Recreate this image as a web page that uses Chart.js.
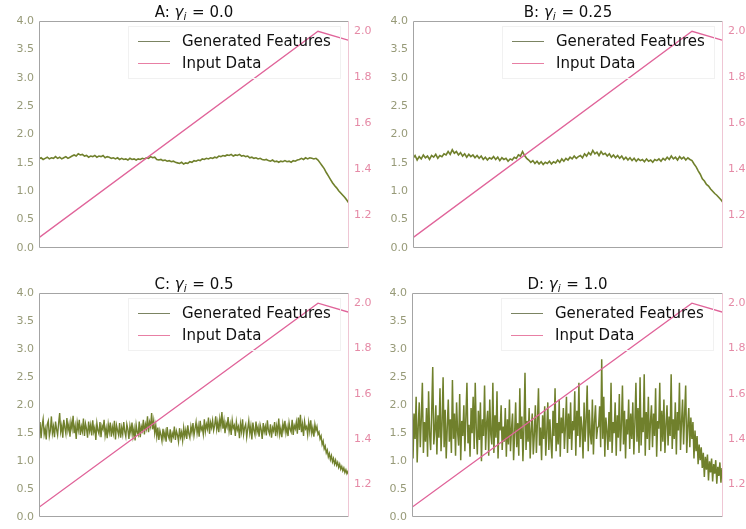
<!DOCTYPE html>
<html><head><meta charset="utf-8">
<script src="https://cdn.jsdelivr.net/npm/chart.js@4"></script>
<style>
html,body{margin:0;padding:0;background:#fff;width:746px;height:529px;overflow:hidden}
canvas{position:absolute}
</style></head><body>
<canvas id="cA" width="373" height="264" style="left:0px;top:0px"></canvas>
<canvas id="cB" width="373" height="264" style="left:373px;top:0px"></canvas>
<canvas id="cC" width="373" height="265" style="left:0px;top:264px"></canvas>
<canvas id="cD" width="373" height="265" style="left:373px;top:264px"></canvas>
<script>
// ---- data ----
const panelLetters = ['A', 'B', 'C', 'D'];
const gammaValues = ['0.0', '0.25', '0.5', '1.0'];
const seriesLabels = ['Generated Features', 'Input Data'];
const leftTicks = [0, 0.5, 1, 1.5, 2, 2.5, 3, 3.5, 4];
const rightTicks = [1.2, 1.4, 1.6, 1.8, 2.0];
const inputX = [0, 0.9, 1.0];
const inputY = [1.10, 2.00, 1.96];

const genA = [
1.57,1.59,1.56,1.58,1.60,1.57,1.59,1.58,1.61,1.58,
1.60,1.57,1.59,1.61,1.58,1.60,1.62,1.64,1.62,1.66,
1.64,1.65,1.62,1.63,1.60,1.62,1.61,1.63,1.60,1.62,
1.61,1.63,1.59,1.61,1.60,1.58,1.59,1.57,1.59,1.56,
1.58,1.56,1.57,1.55,1.58,1.56,1.57,1.55,1.57,1.56,
1.58,1.57,1.59,1.58,1.61,1.59,1.60,1.56,1.55,1.56,
1.54,1.55,1.53,1.54,1.52,1.53,1.51,1.50,1.49,1.51,
1.48,1.50,1.49,1.52,1.51,1.54,1.53,1.55,1.54,1.57,
1.56,1.58,1.57,1.59,1.58,1.60,1.59,1.62,1.61,1.63,
1.62,1.64,1.63,1.65,1.62,1.64,1.63,1.65,1.62,1.63,
1.61,1.62,1.59,1.60,1.58,1.59,1.57,1.58,1.56,1.55,
1.56,1.54,1.53,1.55,1.52,1.53,1.51,1.53,1.52,1.54,
1.52,1.53,1.51,1.54,1.53,1.55,1.56,1.58,1.56,1.59,
1.57,1.59,1.58,1.57,1.58,1.55,1.50,1.45,1.40,1.33,
1.27,1.21,1.15,1.10,1.06,1.01,0.97,0.93,0.89,0.84,0.79];

const genB = [
1.58,1.63,1.55,1.61,1.57,1.64,1.59,1.62,1.56,1.63,
1.60,1.65,1.58,1.63,1.61,1.66,1.64,1.70,1.65,1.73,
1.67,1.70,1.64,1.68,1.62,1.66,1.60,1.65,1.61,1.64,
1.59,1.63,1.58,1.62,1.56,1.60,1.55,1.59,1.57,1.61,
1.56,1.60,1.54,1.59,1.56,1.58,1.53,1.57,1.55,1.60,
1.58,1.64,1.62,1.70,1.63,1.58,1.55,1.51,1.54,1.49,
1.53,1.48,1.52,1.47,1.51,1.49,1.53,1.48,1.52,1.50,
1.55,1.51,1.57,1.53,1.58,1.55,1.60,1.57,1.62,1.58,
1.61,1.63,1.59,1.66,1.62,1.68,1.64,1.72,1.66,1.69,
1.63,1.70,1.65,1.67,1.62,1.66,1.60,1.64,1.59,1.63,
1.58,1.62,1.56,1.60,1.55,1.59,1.54,1.58,1.53,1.57,
1.54,1.56,1.52,1.57,1.53,1.55,1.51,1.56,1.54,1.57,
1.53,1.58,1.55,1.60,1.56,1.62,1.57,1.60,1.55,1.61,
1.57,1.60,1.55,1.59,1.56,1.54,1.48,1.43,1.36,1.30,
1.22,1.18,1.12,1.09,1.04,1.00,0.96,0.93,0.89,0.85,0.80];

const genC = [
1.52,1.70,1.41,1.63,1.75,1.48,1.58,1.39,1.66,1.72,
1.45,1.55,1.80,1.50,1.62,1.43,1.71,1.57,1.47,1.68,
1.86,1.53,1.64,1.42,1.74,1.60,1.49,1.77,1.55,1.66,
1.44,1.70,1.58,1.81,1.50,1.63,1.40,1.69,1.56,1.74,
1.47,1.62,1.53,1.76,1.45,1.67,1.58,1.42,1.71,1.54,
1.65,1.46,1.73,1.52,1.60,1.38,1.68,1.55,1.49,1.70,
1.43,1.63,1.57,1.74,1.46,1.59,1.41,1.66,1.52,1.69,
1.44,1.61,1.50,1.72,1.39,1.64,1.55,1.47,1.68,1.42,
1.60,1.48,1.70,1.53,1.44,1.66,1.57,1.40,1.63,1.51,
1.69,1.45,1.58,1.37,1.65,1.52,1.47,1.71,1.43,1.62,
1.55,1.74,1.48,1.66,1.58,1.80,1.52,1.70,1.62,1.86,
1.57,1.72,1.50,1.64,1.44,1.60,1.38,1.55,1.47,1.36,
1.58,1.42,1.52,1.35,1.61,1.46,1.40,1.57,1.33,1.50,
1.44,1.62,1.38,1.54,1.47,1.35,1.59,1.43,1.52,1.37,
1.60,1.45,1.56,1.40,1.64,1.49,1.42,1.62,1.51,1.68,
1.46,1.58,1.70,1.50,1.63,1.44,1.72,1.56,1.61,1.48,
1.75,1.53,1.66,1.58,1.78,1.49,1.69,1.60,1.73,1.55,
1.64,1.80,1.57,1.70,1.52,1.76,1.62,1.88,1.58,1.72,
1.50,1.68,1.61,1.79,1.54,1.66,1.47,1.73,1.59,1.64,
1.45,1.70,1.56,1.62,1.41,1.67,1.53,1.75,1.48,1.60,
1.66,1.43,1.58,1.72,1.50,1.63,1.39,1.69,1.55,1.47,
1.71,1.52,1.61,1.44,1.65,1.57,1.40,1.68,1.53,1.62,
1.46,1.73,1.55,1.49,1.66,1.42,1.60,1.54,1.70,1.45,
1.63,1.51,1.76,1.48,1.59,1.43,1.67,1.56,1.72,1.50,
1.61,1.45,1.69,1.57,1.52,1.74,1.47,1.64,1.58,1.70,
1.49,1.78,1.56,1.83,1.52,1.66,1.45,1.71,1.58,1.62,
1.47,1.69,1.54,1.73,1.50,1.60,1.44,1.66,1.55,1.62,
1.48,1.52,1.40,1.45,1.30,1.36,1.22,1.27,1.15,1.20,
1.08,1.14,1.03,1.10,0.99,1.05,0.95,1.02,0.93,0.98,
0.89,0.95,0.86,0.91,0.83,0.88,0.80,0.85,0.78,0.82,
0.75];

const genD = [
2.20,1.05,1.85,1.40,2.15,0.98,1.62,2.05,1.25,1.78,
2.40,1.15,1.70,1.35,1.95,1.08,2.25,1.48,1.20,1.88,
2.68,1.30,1.55,2.00,1.12,1.82,1.42,2.30,1.18,1.66,
2.50,1.25,1.92,1.05,1.60,2.10,1.35,1.75,1.15,2.45,
1.40,1.85,1.10,2.05,1.52,1.28,2.20,1.02,1.72,1.45,
2.00,1.18,1.80,2.40,1.32,1.65,1.08,1.95,1.50,2.15,
1.22,2.40,1.58,1.12,1.90,1.38,2.05,1.00,1.75,1.45,
2.35,1.20,1.68,1.90,1.10,2.10,1.48,1.30,2.40,1.15,
1.82,1.42,2.25,1.05,1.70,1.55,2.00,1.20,1.62,1.35,
1.95,1.08,1.75,1.30,2.10,1.18,1.58,1.85,1.02,1.50,
2.05,1.25,1.68,1.10,2.30,1.40,1.80,1.00,1.62,2.58,
1.20,1.72,1.35,1.95,1.05,1.55,1.85,1.12,1.48,2.00,
1.15,1.70,2.30,1.28,1.60,1.02,1.82,1.40,1.98,1.10,
1.52,2.05,1.20,1.75,1.35,1.05,1.90,1.45,2.30,1.18,
1.68,1.30,2.10,1.08,1.78,1.50,1.95,1.22,1.62,2.15,
1.15,1.85,1.40,2.05,1.20,1.72,1.55,2.25,1.10,1.90,
1.45,2.40,1.25,1.80,1.60,1.05,2.05,1.35,1.75,2.35,
1.18,1.92,1.48,1.30,2.10,1.12,1.70,2.00,1.40,1.60,
1.62,1.98,1.25,2.82,1.40,2.15,1.08,1.78,1.55,1.20,
1.88,1.35,2.40,1.15,1.70,1.50,2.05,1.10,1.82,1.42,
2.20,1.18,1.65,2.35,1.30,1.90,1.05,1.75,1.48,2.10,
1.22,1.85,1.40,2.05,1.12,1.68,2.40,1.35,1.95,1.15,
2.50,1.28,1.78,1.52,2.55,1.10,1.88,1.40,2.15,1.20,
1.70,2.00,1.25,1.85,1.45,2.30,1.08,1.72,1.58,2.40,
1.18,1.90,1.35,2.10,1.15,1.65,2.00,1.28,1.80,1.45,
2.55,1.22,1.75,1.40,2.05,1.12,1.88,1.55,2.40,1.20,
1.70,2.10,1.30,1.85,2.35,1.15,1.62,1.95,1.25,1.78,
1.40,1.70,1.05,1.55,1.18,1.45,0.95,1.30,1.02,1.25,
0.88,1.15,0.72,1.08,0.85,1.12,0.66,1.00,0.80,1.05,
0.64,0.95,0.78,1.02,0.60,0.90,0.74,0.98,0.62,0.88,
0.70];

const genSeries = [genA, genB, genC, genD];

// ---- styling / layout ----
const GREEN = '#70802c';
const PINK = '#e0649a';
const FONT = "'DejaVu Sans', sans-serif";
const panels = [
  {id: 'cA', padTop: 21, padBottom: 16, leftW: 39, rightW: 24, lw: 1.6},
  {id: 'cB', padTop: 21, padBottom: 16, leftW: 40, rightW: 23, lw: 1.6},
  {id: 'cC', padTop: 29, padBottom: 9, leftW: 39, rightW: 24, lw: 1.4},
  {id: 'cD', padTop: 29, padBottom: 9, leftW: 39, rightW: 23, lw: 1.5}
];

const decor = {
  id: 'decor',
  afterDatasetsDraw(chart) {
    const {ctx, chartArea: a} = chart;
    const L = Math.round(a.left) + 0.5, R = Math.round(a.right) - 0.5;
    const T = Math.round(a.top) + 0.5, B = Math.round(a.bottom) - 0.5;
    ctx.save();
    ctx.lineWidth = 1;
    ctx.strokeStyle = '#a4a4a4';
    ctx.beginPath();
    ctx.moveTo(R, T); ctx.lineTo(L, T); ctx.lineTo(L, B); ctx.lineTo(R, B);
    ctx.stroke();
    ctx.strokeStyle = '#efc6d4';
    ctx.beginPath(); ctx.moveTo(R, T); ctx.lineTo(R, B); ctx.stroke();
    ctx.restore();
  },
  afterDraw(chart) {
    const {ctx, chartArea: a} = chart;
    const o = chart.options.plugins.decor;
    ctx.save();
    // legend frame (faint)
    ctx.strokeStyle = '#f1f1f1';
    ctx.lineWidth = 1;
    ctx.strokeRect(Math.round(a.left + 89) + 0.5, Math.round(a.top + 5) + 0.5, 212, 52);
    // legend entries
    const rows = [
      {label: seriesLabels[0], color: '#7b8462', y: a.top + 20},
      {label: seriesLabels[1], color: '#e87fa4', y: a.top + 42}
    ];
    ctx.font = '15px ' + FONT;
    ctx.textBaseline = 'middle';
    ctx.textAlign = 'left';
    rows.forEach(r => {
      ctx.strokeStyle = r.color;
      ctx.lineWidth = 1;
      ctx.beginPath();
      ctx.moveTo(a.left + 99, Math.round(r.y) + 0.5);
      ctx.lineTo(a.left + 131, Math.round(r.y) + 0.5);
      ctx.stroke();
      ctx.fillStyle = '#111';
      ctx.fillText(r.label, a.left + 143, r.y + 1);
    });
    // title: "X: γ_i = v"
    const pre = o.letter + ': ';
    const post = ' = ' + o.gamma;
    const fN = '15px ' + FONT, fI = 'italic 15px ' + FONT, fS = 'italic 10.5px ' + FONT;
    ctx.font = fN; const wPre = ctx.measureText(pre).width, wPost = ctx.measureText(post).width;
    ctx.font = fI; const wG = ctx.measureText('γ').width;
    ctx.font = fS; const wS = ctx.measureText('i').width;
    const total = wPre + wG + wS + 1 + wPost;
    let x = (a.left + a.right) / 2 - total / 2;
    const y = a.top - 8;
    ctx.fillStyle = '#111';
    ctx.textBaseline = 'middle';
    ctx.font = fN; ctx.fillText(pre, x, y); x += wPre;
    ctx.font = fI; ctx.fillText('γ', x, y); x += wG;
    ctx.font = fS; ctx.fillText('i', x, y + 4); x += wS + 1;
    ctx.font = fN; ctx.fillText(post, x, y);
    ctx.restore();
  }
};

panels.forEach((p, k) => {
  const gen = genSeries[k];
  new Chart(document.getElementById(p.id), {
    type: 'line',
    data: {
      datasets: [
        {
          label: seriesLabels[1],
          data: inputX.map((x, i) => ({x: x, y: inputY[i]})),
          yAxisID: 'y1',
          borderColor: PINK,
          borderWidth: 1.3,
          pointRadius: 0,
          order: 0
        },
        {
          label: seriesLabels[0],
          data: gen.map((v, i) => ({x: i / (gen.length - 1), y: v})),
          yAxisID: 'y',
          borderColor: GREEN,
          borderWidth: p.lw,
          pointRadius: 0,
          order: 1
        }
      ]
    },
    options: {
      responsive: false,
      animation: false,
      events: [],
      layout: {padding: {top: p.padTop, bottom: p.padBottom, left: 0, right: 0}},
      plugins: {
        legend: {display: false},
        tooltip: {enabled: false},
        decor: {letter: panelLetters[k], gamma: gammaValues[k]}
      },
      scales: {
        x: {type: 'linear', min: 0, max: 1, display: false},
        y: {
          position: 'left', min: 0, max: 4,
          grid: {display: false, drawTicks: false},
          border: {display: false},
          afterBuildTicks: s => { s.ticks = leftTicks.map(v => ({value: v})); },
          afterFit: s => { s.width = p.leftW; },
          ticks: {
            color: '#979a78', padding: 5,
            font: {family: FONT, size: 11},
            callback: v => Number(v).toFixed(1)
          }
        },
        y1: {
          position: 'right', min: 1.055, max: 2.045,
          grid: {display: false, drawTicks: false},
          border: {display: false},
          afterBuildTicks: s => { s.ticks = rightTicks.map(v => ({value: v})); },
          afterFit: s => { s.width = p.rightW; },
          ticks: {
            color: '#e58aa6', padding: 5,
            font: {family: FONT, size: 11},
            callback: v => Number(v).toFixed(1)
          }
        }
      }
    },
    plugins: [decor]
  });
});
</script>
</body></html>
